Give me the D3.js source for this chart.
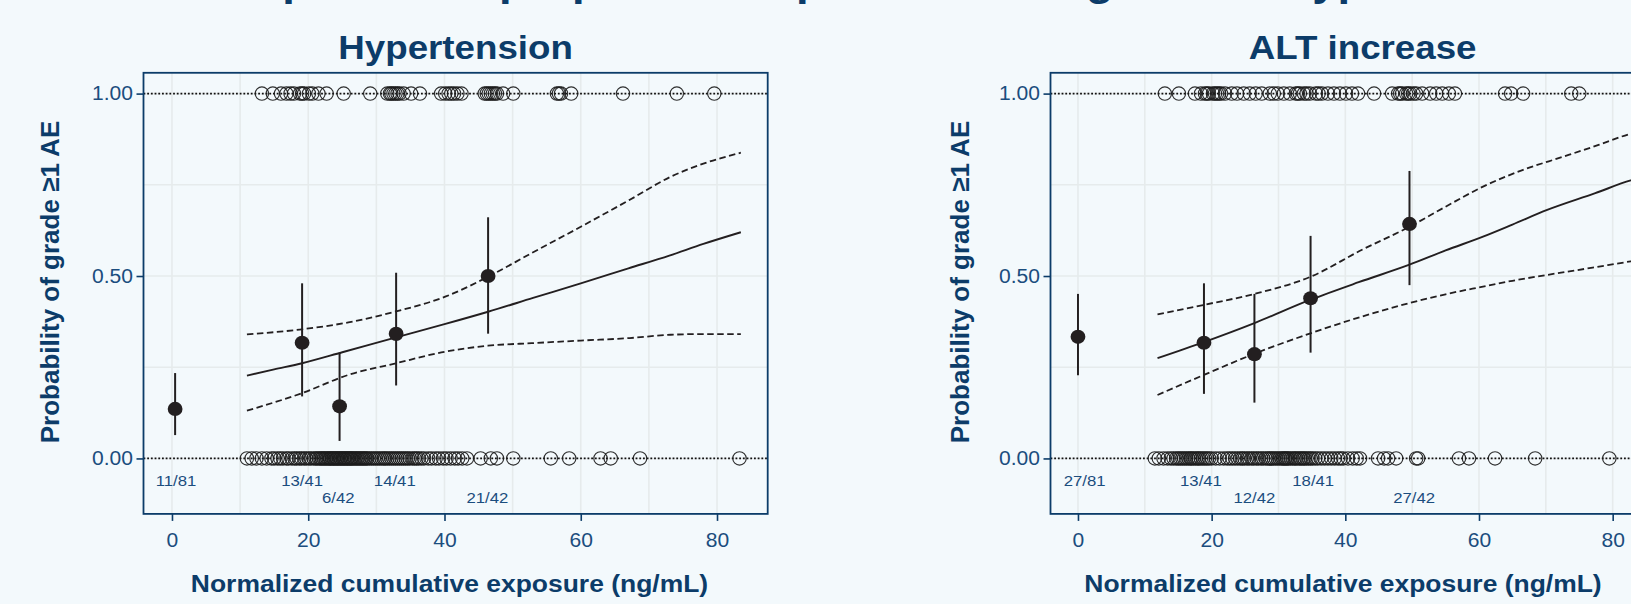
<!DOCTYPE html>
<html><head><meta charset="utf-8">
<script src="https://cdn.jsdelivr.net/npm/d3@7"></script>
<style>
html,body{margin:0;padding:0;background:#f3f9fc;}
svg{display:block;font-family:"Liberation Sans",Arial,sans-serif;}
</style></head><body>
<svg id="chart" width="1631" height="604"></svg>
<script>
// ---------------- data ----------------
const mainTitle = "Observed and predicted proportion of patients with grade \u22651 hypertension and ALT increase";
const xTitle = "Normalized cumulative exposure (ng/mL)";
const yTitle = "Probability of grade \u22651 AE";
const xTicks = [0, 20, 40, 60, 80];
const xMinorTicks = [10, 30, 50, 70];
const yTicks = [0, 0.5, 1];
const yMinorTicks = [0.25, 0.75];
const yTickLabels = ["0.00", "0.50", "1.00"];
const labelRows = [-0.06, -0.06, -0.108, -0.06, -0.108];

// Hypertension panel
const htnTitle = "Hypertension";
const htnBinX = [0.46, 19.1, 24.6, 32.9, 46.4];
const htnEvents = [11, 13, 6, 14, 21];
const htnTotal = [81, 41, 42, 41, 42];
const htnLower = [0.064, 0.170, 0.048, 0.200, 0.342];
const htnUpper = [0.234, 0.480, 0.290, 0.509, 0.661];
const htnLabelX = [0.6, 19.1, 24.4, 32.7, 46.3];
const htnFitX = [11, 15, 19.1, 25, 32.9, 40, 46.4, 53, 60, 67, 73, 78, 83.5];
const htnFitY = [0.227, 0.244, 0.261, 0.291, 0.332, 0.368, 0.402, 0.440, 0.480, 0.521, 0.556, 0.588, 0.620];
const htnUpX = [11, 19.1, 25.9, 32.9, 40.2, 46.4, 52.8, 60, 67.2, 73.2, 78, 83.5];
const htnUpY = [0.340, 0.354, 0.373, 0.403, 0.444, 0.498, 0.563, 0.635, 0.709, 0.772, 0.808, 0.838];
const htnLoX = [11, 19.1, 25.9, 32.9, 40.2, 46.4, 52.8, 60, 67.2, 73.2, 78, 83.5];
const htnLoY = [0.131, 0.179, 0.229, 0.261, 0.293, 0.309, 0.316, 0.323, 0.330, 0.339, 0.341, 0.341];
const htnRugYes = [13.2, 14.8, 16.0, 16.8, 17.4, 17.9, 18.8, 19.1, 19.4, 20.1, 20.6, 21.5, 22.7, 25.2,
  29.1, 31.6, 32.0, 32.2, 32.5, 32.8, 33.1, 33.4, 34.0, 35.1, 36.4, 39.5, 40.1, 40.6, 41.0, 41.4, 41.9, 42.5,
  45.9, 46.2, 46.5, 46.8, 47.1, 47.4, 47.7, 48.6, 50.1, 56.5, 56.8, 57.1, 58.6, 66.2, 74.1, 79.6];
const htnRugNo = [11.0, 11.7, 12.4, 13.2, 13.9, 14.6, 15.0, 15.5, 15.9, 16.3, 16.8, 17.1, 17.6, 18.0, 18.3,
  18.7, 19.0, 19.4, 19.7, 20.1, 20.4, 20.8, 21.1, 21.3, 21.6, 21.8, 22.0, 22.2,
  22.4, 22.6, 22.8, 23.0, 23.2, 23.3, 23.5, 23.7, 23.8, 24.0, 24.2, 24.3, 24.5, 24.7, 24.8, 25.0, 25.2, 25.3,
  25.5, 25.7, 25.8, 26.0, 26.2, 26.3, 26.5, 26.7, 26.9, 27.1, 27.3, 27.5, 27.7, 27.9, 28.1, 28.3, 28.5, 28.7,
  29.0, 29.3, 29.6, 29.9, 30.2, 30.5, 30.8, 31.1, 31.3, 31.6, 31.9, 32.2, 32.5, 32.8, 33.1, 33.4, 33.7, 34.0,
  34.3, 34.6, 34.9, 35.3, 35.6, 35.9, 36.2, 36.6, 37.0,
  37.6, 38.1, 38.7, 39.2, 39.8, 40.3, 40.9, 41.5, 42.0, 42.6, 43.3, 45.3, 46.8, 47.7, 50.1, 55.6, 58.3, 62.9,
  64.4, 68.7, 83.3];

// ALT increase panel
const altTitle = "ALT increase";
const altBinX = [0.0, 18.85, 26.4, 34.8, 49.6];
const altEvents = [27, 13, 12, 18, 27];
const altTotal = [81, 41, 42, 41, 42];
const altLower = [0.228, 0.177, 0.153, 0.290, 0.475];
const altUpper = [0.451, 0.480, 0.451, 0.610, 0.788];
const altLabelX = [1.0, 18.4, 26.4, 35.2, 50.3];
const altFitX = [11.9, 18.85, 26.4, 34.8, 42, 49.6, 55, 60.6, 65, 70.2, 77.4, 82.7, 85];
const altFitY = [0.275, 0.319, 0.371, 0.435, 0.483, 0.531, 0.570, 0.608, 0.641, 0.681, 0.727, 0.762, 0.772];
const altUpX = [11.9, 18.85, 26.4, 34.8, 42.5, 49.6, 55, 60.6, 66.6, 72.6, 78, 82.7, 85];
const altUpY = [0.395, 0.421, 0.451, 0.498, 0.572, 0.635, 0.690, 0.745, 0.791, 0.827, 0.860, 0.890, 0.900];
const altLoX = [11.9, 18.85, 26.4, 34.8, 42.5, 49.6, 55, 60.6, 65, 70.2, 77, 82.7, 85];
const altLoY = [0.174, 0.229, 0.287, 0.343, 0.389, 0.426, 0.450, 0.471, 0.487, 0.503, 0.523, 0.540, 0.546];
const altRugYes = [13.0, 15.1, 17.5, 18.4, 19.0, 19.3, 19.6, 20.2, 20.5, 20.8, 21.1, 21.4, 22.0, 23.0, 23.8,
  24.8, 25.7, 26.6, 27.5, 28.7, 29.3, 29.9, 30.8, 31.7, 32.6, 32.9, 33.2, 33.8, 34.2, 34.7, 35.6, 36.0, 36.5,
  37.4, 38.3, 39.2, 40.1, 41.0, 41.9, 44.3, 47.0, 47.9, 48.2, 48.5, 49.1, 49.4, 49.7, 50.2, 50.6, 51.5, 52.7,
  53.6, 54.5, 55.5, 56.4, 63.9, 64.8, 66.6, 73.8, 75.0];
const altRugNo = [11.5, 12.1, 12.8, 13.4, 13.9, 14.3, 14.7, 15.0, 15.3, 15.6, 15.9, 16.2, 16.5, 16.8, 17.0,
  17.3, 17.6, 17.9, 18.1, 18.4, 18.7, 19.0, 19.3, 19.6, 20.0, 20.6, 21.2, 21.8,
  22.3, 22.7, 23.1, 23.5, 23.9, 24.3, 24.6, 24.9, 25.3, 25.6, 26.0, 26.3, 26.7, 27.0, 27.4, 27.7, 28.1, 28.4,
  28.7, 29.0, 29.3, 29.6, 29.9, 30.2, 30.5, 30.7, 30.9, 31.1, 31.3, 31.5,
  31.8, 32.1, 32.4, 32.6, 32.9, 33.2, 33.4, 33.7, 33.9, 34.2, 34.5, 34.8, 35.1, 35.5, 35.9, 36.4, 36.9, 37.4,
  37.9, 38.4, 38.9, 39.3, 39.7,
  40.4, 41.1, 41.7, 42.2, 44.9, 45.8, 46.4, 47.6, 50.6, 50.9, 57.0, 58.5, 62.4, 68.4, 79.5];

// ---------------- layout / style ----------------
const S = 1.08;               // horizontal text stretch of the original image
const NAVY = "#0c3c69";
const TICKCOL = "#1b4d7e";
const INK = "#231f20";
const GRID = "#e6ebec";
const TOP = 72.8, BOTTOM = 513.9;
const yDomain = [-0.152, 1.057];

const svg = d3.select("#chart");
svg.append("rect").attr("width", 1631).attr("height", 604).attr("fill", "#f3f9fc");

// main title (mostly cut off by the top edge, as in the source)
const mt = svg.append("text")
  .attr("font-size", 42).attr("font-weight", "bold").attr("fill", NAVY)
  .attr("y", -5).attr("transform", `scale(${S},1)`).text(mainTitle);
{
  const node = mt.node();
  const idx = mainTitle.indexOf("predicted");
  const ext = node.getExtentOfChar(idx);
  mt.attr("x", 296 / S - (ext.x + ext.width / 2));
}

function hText(g, x, y, txt, size, opts = {}) {
  return g.append("text")
    .attr("transform", `translate(${x},${y}) scale(${S},1)`)
    .attr("text-anchor", opts.anchor || "middle")
    .attr("font-size", size)
    .attr("font-weight", opts.bold ? "bold" : "normal")
    .attr("fill", opts.fill || NAVY)
    .attr("dy", opts.dy || 0)
    .text(txt);
}

function drawPanel(cfg) {
  const g = svg.append("g");
  const x = d3.scaleLinear().domain(cfg.xDomain).range([cfg.left, cfg.left + cfg.width]);
  const y = d3.scaleLinear().domain(yDomain).range([BOTTOM, TOP]);

  // grid
  const grid = g.append("g").attr("stroke", GRID).attr("stroke-width", 1.6);
  grid.selectAll("line.v").data(xMinorTicks.concat(xTicks)).join("line")
    .attr("x1", d => x(d)).attr("x2", d => x(d)).attr("y1", TOP).attr("y2", BOTTOM);
  grid.selectAll("line.h").data(yMinorTicks.concat(yTicks)).join("line")
    .attr("x1", cfg.left).attr("x2", cfg.left + cfg.width).attr("y1", d => y(d)).attr("y2", d => y(d));

  // dotted reference lines at 0 and 1
  g.selectAll("line.ref").data([0, 1]).join("line")
    .attr("x1", cfg.left).attr("x2", cfg.left + cfg.width)
    .attr("y1", d => y(d)).attr("y2", d => y(d))
    .attr("stroke", "#111").attr("stroke-width", 1.8).attr("stroke-dasharray", "1.8,1.9");

  // rug circles
  const rug = cfg.rugYes.map(v => [v, 1]).concat(cfg.rugNo.map(v => [v, 0]));
  g.append("g").selectAll("circle").data(rug).join("circle")
    .attr("cx", d => x(d[0])).attr("cy", d => y(d[1])).attr("r", 6.7)
    .attr("fill", "none").attr("stroke", "#1c1c1c").attr("stroke-width", 1.15).attr("stroke-opacity", 0.92);

  // fitted curve and CI
  const line = d3.line().x(d => x(d[0])).y(d => y(d[1])).curve(d3.curveMonotoneX);
  const zip = (a, b) => a.map((v, i) => [v, b[i]]);
  g.append("path").attr("d", line(zip(cfg.upX, cfg.upY)))
    .attr("fill", "none").attr("stroke", INK).attr("stroke-width", 1.8).attr("stroke-dasharray", "6.5,3.5");
  g.append("path").attr("d", line(zip(cfg.loX, cfg.loY)))
    .attr("fill", "none").attr("stroke", INK).attr("stroke-width", 1.8).attr("stroke-dasharray", "6.5,3.5");
  g.append("path").attr("d", line(zip(cfg.fitX, cfg.fitY)))
    .attr("fill", "none").attr("stroke", INK).attr("stroke-width", 1.9);

  // observed proportions with CI
  const obs = cfg.binX.map((bx, i) => ({ x: bx, p: cfg.events[i] / cfg.total[i], lo: cfg.lower[i], hi: cfg.upper[i] }));
  g.append("g").selectAll("line").data(obs).join("line")
    .attr("x1", d => x(d.x)).attr("x2", d => x(d.x)).attr("y1", d => y(d.lo)).attr("y2", d => y(d.hi))
    .attr("stroke", INK).attr("stroke-width", 2);
  g.append("g").selectAll("ellipse").data(obs).join("ellipse")
    .attr("cx", d => x(d.x)).attr("cy", d => y(d.p)).attr("rx", 7.4).attr("ry", 7.1)
    .attr("fill", INK);

  // n/N labels
  const lg = g.append("g");
  cfg.labelX.forEach((lx, i) => {
    hText(lg, x(lx), y(labelRows[i]), `${cfg.events[i]}/${cfg.total[i]}`, 15.5, { fill: TICKCOL, dy: "0.36em" });
  });

  // panel border
  g.append("rect").attr("x", cfg.left).attr("y", TOP).attr("width", cfg.width).attr("height", BOTTOM - TOP)
    .attr("fill", "none").attr("stroke", NAVY).attr("stroke-width", 1.8);

  // axes
  const ax = g.append("g").attr("transform", `translate(0,${BOTTOM})`)
    .call(d3.axisBottom(x).tickValues(xTicks).tickSize(7).tickPadding(12).tickFormat(d3.format("d")));
  const ay = g.append("g").attr("transform", `translate(${cfg.left},0)`)
    .call(d3.axisLeft(y).tickValues(yTicks).tickSize(7).tickPadding(2.8).tickFormat((d, i) => yTickLabels[i]));
  [ax, ay].forEach(a => {
    a.select(".domain").remove();
    a.selectAll(".tick line").attr("stroke", NAVY).attr("stroke-width", 1.6);
    a.selectAll(".tick text").attr("fill", TICKCOL).attr("font-size", 19.5)
      .attr("font-family", "'Liberation Sans',Arial,sans-serif").attr("transform", `scale(${S},1)`);
  });

  // titles
  hText(g, cfg.left + cfg.width / 2, 59.3, cfg.title, 34, { bold: true });
  hText(g, cfg.xTitleX, 591.5, xTitle, 24.5, { bold: true });
  g.append("text")
    .attr("transform", `translate(${cfg.yTitleX},282) rotate(-90)`)
    .attr("text-anchor", "middle").attr("font-size", 26).attr("font-weight", "bold").attr("fill", NAVY)
    .text(yTitle);
}

drawPanel({
  left: 143.5, width: 624.2, xDomain: [-4.18, 87.44], title: htnTitle,
  xTitleX: 449.5, yTitleX: 58.5,
  binX: htnBinX, events: htnEvents, total: htnTotal, lower: htnLower, upper: htnUpper, labelX: htnLabelX,
  fitX: htnFitX, fitY: htnFitY, upX: htnUpX, upY: htnUpY, loX: htnLoX, loY: htnLoY,
  rugYes: htnRugYes, rugNo: htnRugNo
});
drawPanel({
  left: 1050.5, width: 624.2, xDomain: [-4.11, 89.28], title: altTitle,
  xTitleX: 1343, yTitleX: 969,
  binX: altBinX, events: altEvents, total: altTotal, lower: altLower, upper: altUpper, labelX: altLabelX,
  fitX: altFitX, fitY: altFitY, upX: altUpX, upY: altUpY, loX: altLoX, loY: altLoY,
  rugYes: altRugYes, rugNo: altRugNo
});
</script>
</body></html>
